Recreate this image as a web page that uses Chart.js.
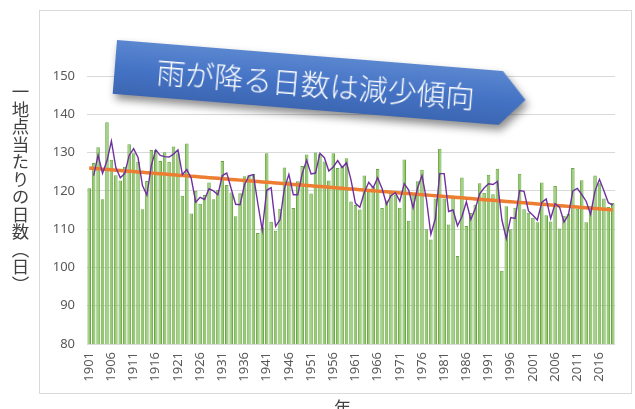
<!DOCTYPE html>
<html lang="ja">
<head>
<meta charset="utf-8">
<script src="https://cdn.jsdelivr.net/npm/chart.js@4"></script>
<style>
  html, body { margin:0; padding:0; background:#fff; }
  body { width:635px; height:409px; overflow:hidden; position:relative; }
  #frame { position:absolute; left:39px; top:10px; width:593px; height:384px; border:1px solid #D9D9D9; box-sizing:border-box; }
  #c { position:absolute; left:0; top:0; }
  #ytitle { position:absolute; left:10px; top:83px; writing-mode:vertical-rl; font-family:"Noto Sans CJK JP", sans-serif; font-size:17.5px; line-height:20px; color:#404040; }
  #xtitle { position:absolute; left:334px; top:397px; font-family:"Noto Sans CJK JP", sans-serif; font-size:17px; line-height:20px; color:#404040; }
  #bannerWrap { position:absolute; left:117px; top:40px; transform:rotate(4.6deg); transform-origin:0 0; filter:drop-shadow(3px 5px 4px rgba(0,0,0,0.45)); }
  #banner { width:412px; height:54px; box-sizing:border-box; padding-left:42px;
    clip-path:polygon(0 0, 94% 0, 100% 50%, 94% 100%, 0 100%);
    background:linear-gradient(#5B87D0, #4472C4 55%, #3C66B2);
    color:#fff; font-family:"Noto Sans CJK JP", sans-serif; font-weight:300; font-size:29px; line-height:54px; white-space:nowrap; }
</style>
</head>
<body>
<div id="frame"></div>
<canvas id="c" width="635" height="409"></canvas>
<div id="ytitle">一地点当たりの日数（日）</div>
<div id="xtitle">年</div>
<div id="bannerWrap"><div id="banner">雨が降る日数は減少傾向</div></div>
<script>
// 年 (categories)
const years = Array.from({length: 119}, (_, i) => 1901 + i);
// x-axis tick labels shown
const tickLabels = ['1901','1906','1911','1916','1921','1926','1931','1936','1941','1946','1951','1956','1961','1966','1971','1976','1981','1986','1991','1996','2001','2006','2011','2016'];
// y-axis ticks
const yTicks = [80, 90, 100, 110, 120, 130, 140, 150];
// 一地点当たりの日数
const rainDays = [
  120.7, 127.3, 131.4, 117.8, 137.9, 128.1, 124.1, 122.7, 126.3, 132.2,
  129.8, 127.6, 115.2, 122.6, 130.7, 130.7, 127.8, 130.1, 127.6, 131.6,
  129.8, 118.7, 132.4, 114.1, 120.0, 116.6, 118.9, 122.2, 117.8, 120.2,
  127.8, 121.5, 119.6, 113.4, 119.4, 123.8, 124.1, 124.4, 109.0, 110.5,
  129.8, 111.9, 109.6, 115.3, 126.1, 122.5, 115.5, 122.5, 126.5, 129.5,
  119.3, 130.0, 129.6, 127.7, 122.7, 129.8, 126.0, 126.2, 128.5, 117.2,
  116.3, 115.1, 124.0, 120.5, 121.1, 125.7, 115.5, 117.5, 120.0, 119.0,
  115.6, 128.2, 112.2, 119.0, 122.5, 125.5, 110.0, 107.3, 118.0, 131.0,
  118.0, 111.2, 118.8, 103.0, 123.5, 110.8, 114.2, 116.4, 122.0, 119.5,
  124.2, 119.1, 125.8, 99.1, 116.0, 110.0, 115.6, 124.5, 115.2, 114.3,
  113.0, 111.8, 122.2, 113.6, 112.0, 121.3, 110.2, 113.5, 114.0, 126.0,
  115.3, 122.8, 111.8, 116.0, 124.0, 122.0, 118.0, 115.8, 116.8
];

// 2-period moving average trendline (derived from the data, as in the source chart)
const movingAvg = rainDays.map((v, i) => i === 0 ? null : (v + rainDays[i - 1]) / 2);
// linear least-squares trendline (derived from the data)
const n = rainDays.length;
let sx = 0, sy = 0, sxx = 0, sxy = 0;
rainDays.forEach((v, i) => { sx += i; sy += v; sxx += i * i; sxy += i * v; });
const slope = (n * sxy - sx * sy) / (n * sxx - sx * sx);
const intercept = (sy - slope * sx) / n;
const trend = rainDays.map((_, i) => intercept + slope * i);

const tickFont = { family: 'Noto Sans', size: 13 };

new Chart(document.getElementById('c'), {
  type: 'bar',
  data: {
    labels: years,
    datasets: [
      { type: 'line', label: '移動平均', data: movingAvg, borderColor: '#7030A0', borderWidth: 1.4,
        pointRadius: 0, tension: 0, order: 0 },
      { type: 'line', label: '線形近似', data: trend, borderColor: '#ED7D31', borderWidth: 3.5,
        pointRadius: 0, tension: 0, order: 1 },
      { type: 'bar', label: '日数', data: rainDays, backgroundColor: '#97C974', borderColor: '#68A842',
        borderWidth: 1, barPercentage: 0.8, categoryPercentage: 1, order: 2 }
    ]
  },
  options: {
    responsive: false,
    animation: false,
    events: [],
    layout: { padding: { top: 76, right: 20, left: 0, bottom: 0 } },
    plugins: { legend: { display: false }, tooltip: { enabled: false }, title: { display: false } },
    scales: {
      x: {
        grid: { display: false, drawTicks: false },
        border: { display: false },
        ticks: {
          autoSkip: false, minRotation: 90, maxRotation: 90, padding: 8,
          font: tickFont, color: '#595959',
          callback: function (val, idx) {
            const lab = String(years[idx]);
            return tickLabels.includes(lab) ? lab : null;
          }
        },
        afterFit: s => { s.height = 65; }
      },
      y: {
        min: yTicks[0], max: yTicks[yTicks.length - 1],
        afterBuildTicks: s => { s.ticks = yTicks.map(v => ({ value: v })); },
        ticks: { padding: 12, font: tickFont, color: '#595959' },
        grid: { color: '#D9D9D9', drawTicks: false, lineWidth: 1 },
        border: { display: false },
        afterFit: s => { s.width = 87; }
      }
    }
  }
});
</script>
</body>
</html>
